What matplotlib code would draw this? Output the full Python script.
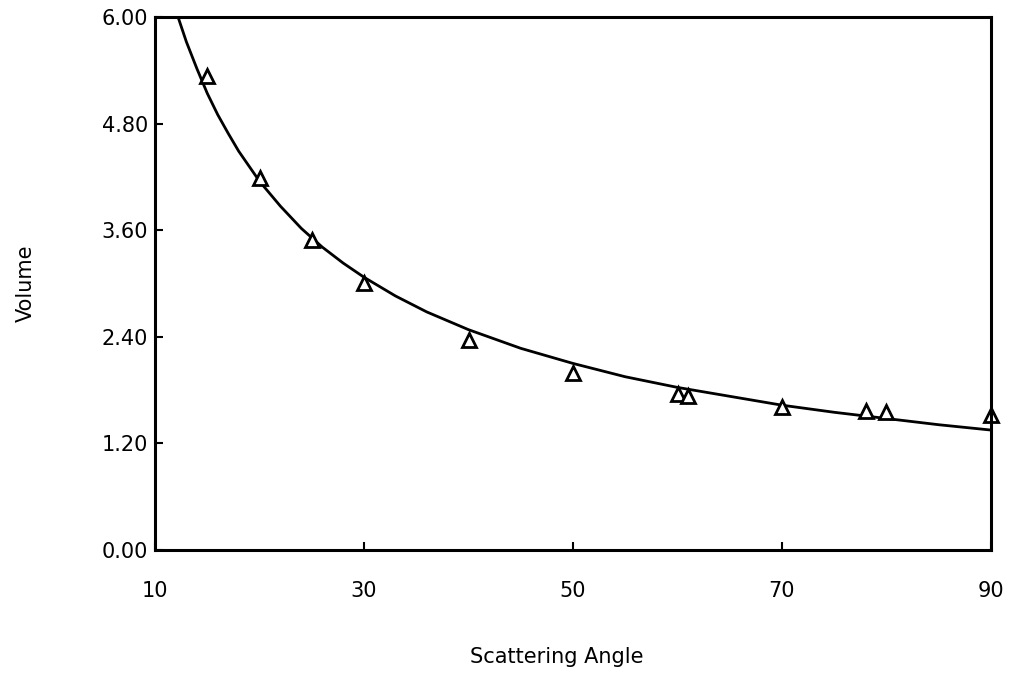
import matplotlib
matplotlib.use('Agg')
import matplotlib.pyplot as plt

# measured points (triangles)
angle = [15, 20, 25, 30, 40, 50, 60, 61, 70, 78, 80, 90]
volume = [5.34, 4.19, 3.49, 3.01, 2.36, 1.99, 1.76, 1.73, 1.61, 1.56, 1.55, 1.52]

# fitted curve
curve_angle = [12.2, 13, 14, 15, 16, 17, 18, 20, 22, 24, 26, 28, 30, 33, 36,
               40, 45, 50, 55, 60, 65, 70, 75, 80, 85, 90]
curve_volume = [6.00, 5.72, 5.42, 5.14, 4.90, 4.69, 4.49, 4.15, 3.87, 3.62,
                3.41, 3.23, 3.07, 2.86, 2.68, 2.48, 2.27, 2.10, 1.95, 1.83,
                1.73, 1.63, 1.55, 1.48, 1.41, 1.35]

x_ticks = [10, 30, 50, 70, 90]
y_ticks = [0.0, 1.2, 2.4, 3.6, 4.8, 6.0]

plt.rcParams['font.family'] = ['DejaVu Sans']

fig = plt.figure(figsize=(10.14, 6.76), dpi=100)
ax = fig.add_axes([0.1529, 0.1864, 0.8244, 0.7885])

ax.plot(curve_angle, curve_volume, color='black', linewidth=2.0)
ax.plot(angle, volume, linestyle='none', marker='^', markersize=9.5,
        markerfacecolor='white', markeredgecolor='black', markeredgewidth=2.0,
        clip_on=False)

ax.set_xlim(10, 90)
ax.set_ylim(0, 6)
ax.set_xticks(x_ticks)
ax.set_yticks(y_ticks)
ax.set_yticklabels(['%.2f' % v for v in y_ticks])

for s in ax.spines.values():
    s.set_linewidth(2.2)

ax.tick_params(axis='both', direction='in', length=6, width=1.5,
               labelsize=15)
ax.tick_params(axis='x', pad=22)
ax.tick_params(axis='y', pad=5)

ax.set_xlabel('Scattering Angle', fontsize=15)
ax.set_ylabel('Volume', fontsize=15)
ax.xaxis.set_label_coords(0.481, -0.182)
ax.yaxis.set_label_coords(-0.143, 0.5)

fig.savefig('out.png', dpi=100)
